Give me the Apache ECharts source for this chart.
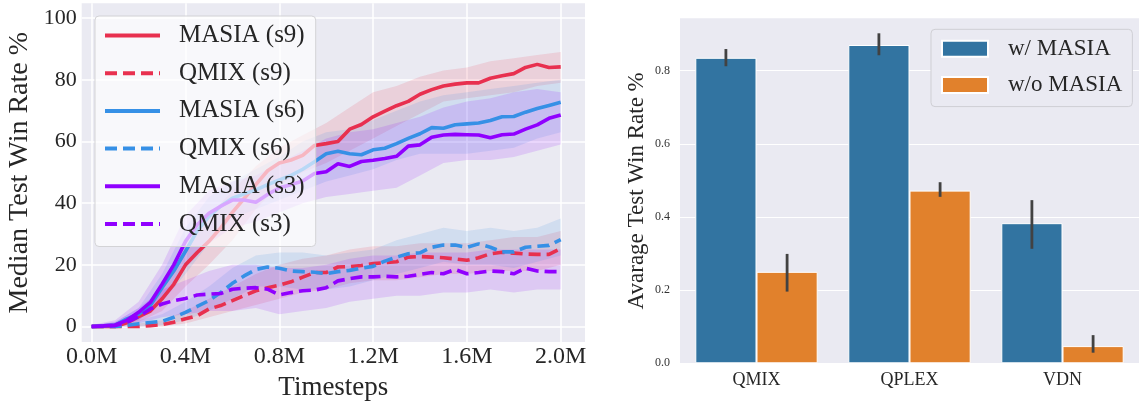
<!DOCTYPE html>
<html>
<head>
<meta charset="utf-8">
<script src="https://cdn.jsdelivr.net/npm/echarts@6/dist/echarts.min.js"></script>
<style>
html,body{margin:0;padding:0;background:#fff;}
#main{width:1139px;height:406px;}
</style>
</head>
<body>
<div id="main"></div>
<script>
// timesteps (M) for the median curves
var steps = [0,0.05,0.1,0.15,0.2,0.25,0.3,0.35,0.4,0.45,0.5,0.55,0.6,0.65,0.7,0.75,0.8,0.85,0.9,0.95,
  1.0,1.05,1.1,1.15,1.2,1.25,1.3,1.35,1.4,1.45,1.5,1.55,1.6,1.65,1.7,1.75,1.8,1.85,1.9,1.95,2.0];
var masiaS9 = [0,0,0,1.2,3.2,5,9,13.7,20,24,27.6,32,37,41.5,46,50.5,53,54,55.5,58.7,
  59.3,60,64,65.5,68,69.8,71.6,73,75.3,76.8,78,78.6,79,79,80.5,81.3,82,84,85,84,84.2];
var qmixS9 = [0,0,0,0,0,0.3,0.6,1.4,2.5,3.5,5.7,6.8,8.4,10,11.6,12.6,13.4,14.5,16,17.5,
  17.5,19.3,19.4,19.8,20.4,20.7,21,22.5,22.7,22.5,22.3,21.9,21.5,22.3,23.6,24.1,23.8,23.5,23.4,23.4,25.3];
var masiaS6 = [0,0.2,0.5,2.5,4,6.8,12.6,18,24.4,31,35.7,39,41.6,43,44.3,46,47.5,49,51,53.4,
  56,56.8,56,55.7,57.3,57.8,59.3,61,62.5,64.5,64.3,65.4,65.7,66,66.8,68,68.1,69.5,70.7,71.7,72.7];
var qmixS6 = [0,0,0,0.4,0.9,1.3,1.7,3,4.6,6.5,8.4,11,14,16.4,18.5,19.3,18.9,18,17.8,17.6,
  17.1,17.8,18.2,18.9,19.5,21.2,22.5,23.6,23.9,25.7,26.4,26.4,25.7,26.8,25.7,24.2,24.2,25.7,26,26.3,28.2];
var masiaS3 = [0,0.2,0.5,2,4.6,7.8,13.7,20,27.6,33,36.7,39,41,41,40.3,42.8,45,46,47.2,49.6,
  50.2,52.8,51.9,53.5,53.9,54.5,55.2,58.5,58.9,61.4,62.1,62.3,62.2,62.1,61.2,62.2,62.4,64,65.4,67.5,68.6];
var qmixS3 = [0,0.1,0.3,1.4,3.2,5.7,7.3,8.4,9.1,10.2,10.5,10.7,12.1,12.4,12.6,12.1,10.3,11,11.6,11.8,
  12.6,14.8,15.5,16.1,16.1,16.3,16.1,16.3,16.9,17.5,17.1,18.5,17.1,17.5,18,17.8,17.1,18.9,18,17.8,17.8];

// shaded spread, sampled every 0.1M
var bandSteps = [0,0.1,0.2,0.3,0.4,0.5,0.6,0.7,0.8,0.9,1.0,1.1,1.2,1.3,1.4,1.5,1.6,1.7,1.8,1.9,2.0];
var masiaS9Hi = [0,0.5,4.5,13,27,36,44,52,58,62,66,71,76,78,81,83,84,86,87,88,89];
var masiaS9Lo = [0,0,1.5,5,13,20,28,38,46,50,53,57,61,65,69,73,74,75,76,78,79];
var masiaS6Hi = [0,1.5,6,17,32,42,47,51,55,60,63,64,67,70,73,75,76,77,78,79,80];
var masiaS6Lo = [0,0,2,8,17,27,35,38,41,44,47,49,51,54,56,56,56,57,58,61,63];
var masiaS3Hi = [0.5,2,8,20,36,44,47,49,53,57,61,63,64,66,68,71,73,74,76,77,76];
var masiaS3Lo = [0,0,2,8,19,27,32,34,37,40,42,43,44,45,49,53,54,54,55,57,59];
var qmixS9Hi = [0,0.5,1,2,5,9,13,17,20,22,23,25,26,26,27,27,27,28,29,29,31];
var qmixS9Lo = [0,0,0,0,1,3,5,7,9,11,12,14,15,15,16,17,17,18,18,18,20];
var qmixS6Hi = [0,0.5,2,4,8,13,19,23,24,24,23,24,25,28,30,32,31,32,31,32,35];
var qmixS6Lo = [0,0,0,0.5,2,5,9,13,13,12,12,13,15,17,19,21,20,20,19,21,23];
var qmixS3Hi = [0.5,1.5,6,12,15,18,20,20,19,19,20,22,23,23,24,24,24,25,25,25,25];
var qmixS3Lo = [0,0,1,3,4,5,5,6,4,5,6,8,9,10,10,11,11,12,11,12,12];

var xTicks = [0,0.4,0.8,1.2,1.6,2.0];
var yTicks = [0,20,40,60,80,100];

// right panel
var algos = ['QMIX','QPLEX','VDN'];
var wMasia = [0.835,0.870,0.383];
var wMasiaErr = [[0.812,0.859],[0.842,0.902],[0.313,0.446]];
var woMasia = [0.250,0.472,0.047];
var woMasiaErr = [[0.196,0.299],[0.455,0.495],[0.029,0.077]];
var barTicks = [0,0.2,0.4,0.6,0.8];

var FONT = 'Liberation Serif, Times New Roman, serif';
var TXT = '#262626';
var RED = '#e8304f', BLUE = '#3690e6', PURPLE = '#9000ff';

var chart = echarts.init(document.getElementById('main'));

function pairs(ys){ return steps.map(function(x,i){ return [x, ys[i]]; }); }

function band(hi, lo, color){
  return {
    type: 'custom', xAxisIndex: 0, yAxisIndex: 0, silent: true, z: 1,
    data: [[0, 0]],
    renderItem: function(params, api){
      var pts = [];
      for (var i = 0; i < bandSteps.length; i++) pts.push(api.coord([bandSteps[i], hi[i]]));
      for (var j = bandSteps.length - 1; j >= 0; j--) pts.push(api.coord([bandSteps[j], lo[j]]));
      return {type: 'polygon', shape: {points: pts}, style: {fill: color, opacity: 0.14}};
    }
  };
}

function curve(name, ys, color, dashed){
  return {
    name: name, type: 'line', xAxisIndex: 0, yAxisIndex: 0,
    data: pairs(ys), showSymbol: false, symbol: 'none', z: 3,
    lineStyle: {color: color, width: 3.6, type: dashed ? [12, 6] : 'solid'},
    itemStyle: {color: color}
  };
}

function errBars(errs, side){
  return {
    type: 'custom', xAxisIndex: 1, yAxisIndex: 1, silent: true, z: 5,
    data: errs.map(function(e, i){ return [i, e[0], e[1]]; }),
    renderItem: function(params, api){
      var w = api.size([1, 0])[0];
      var lo = api.coord([api.value(0), api.value(1)]);
      var hi = api.coord([api.value(0), api.value(2)]);
      var x = lo[0] + side * w * 0.2;
      return {type: 'line', shape: {x1: x, y1: lo[1], x2: x, y2: hi[1]},
        style: {stroke: '#424242', lineWidth: 2.8}};
    }
  };
}

var option = {
  animation: false,
  textStyle: {fontFamily: FONT},
  grid: [
    {left: 81.7, right: 554, top: 3.3, bottom: 61, show: true, backgroundColor: '#eaeaf2', borderWidth: 0},
    {left: 680, right: -4, top: 18.3, bottom: 42.7, show: true, backgroundColor: '#eaeaf2', borderWidth: 0}
  ],
  xAxis: [
    {gridIndex: 0, type: 'value', min: -0.0426, max: 2.1036,
      name: 'Timesteps', nameLocation: 'middle', nameGap: 28,
      nameTextStyle: {fontFamily: FONT, fontSize: 27, color: TXT},
      axisLine: {show: false}, axisTick: {show: false, customValues: xTicks},
      axisLabel: {customValues: xTicks, margin: 3, fontFamily: FONT, fontSize: 24, color: TXT,
        formatter: function(v){ return v.toFixed(1) + 'M'; }},
      splitLine: {show: true, lineStyle: {color: '#ffffff', width: 1.5}}},
    {gridIndex: 1, type: 'category', data: algos,
      axisLine: {show: false}, axisTick: {show: false},
      axisLabel: {margin: 8, fontFamily: FONT, fontSize: 18, color: TXT},
      splitLine: {show: false}}
  ],
  yAxis: [
    {gridIndex: 0, type: 'value', min: -5.05, max: 104.8,
      name: 'Median Test Win Rate %', nameLocation: 'middle', nameGap: 48,
      nameTextStyle: {fontFamily: FONT, fontSize: 28, color: TXT},
      axisLine: {show: false}, axisTick: {show: false, customValues: yTicks},
      axisLabel: {customValues: yTicks, margin: 5, fontFamily: FONT, fontSize: 22, color: TXT},
      splitLine: {show: true, lineStyle: {color: '#ffffff', width: 1.5}}},
    {gridIndex: 1, type: 'value', min: 0, max: 0.943,
      name: 'Avarage Test Win Rate %', nameLocation: 'middle', nameGap: 32,
      nameTextStyle: {fontFamily: FONT, fontSize: 23, color: TXT},
      axisLine: {show: false}, axisTick: {show: false, customValues: barTicks},
      axisLabel: {customValues: barTicks, margin: 10, fontFamily: FONT, fontSize: 12, color: '#333',
        formatter: function(v){ return v.toFixed(1); }},
      splitLine: {show: true, lineStyle: {color: '#ffffff', width: 1.2}}}
  ],
  legend: [
    {data: ['MASIA (s9)','QMIX (s9)','MASIA (s6)','QMIX (s6)','MASIA (s3)','QMIX (s3)'],
      orient: 'vertical', left: 95, top: 16, padding: [7, 11, 10, 8],
      itemWidth: 55, itemHeight: 14, itemGap: 12.7,
      itemStyle: {opacity: 0},
      lineStyle: {width: 4},
      backgroundColor: 'rgba(255,255,255,0.65)', borderColor: '#d3d3d6', borderWidth: 1, borderRadius: 4,
      textStyle: {fontFamily: FONT, fontSize: 25, color: TXT, lineHeight: 24, padding: [0, 0, 0, 14]}},
    {data: ['w/ MASIA','w/o MASIA'], icon: 'rect',
      orient: 'vertical', left: 931, top: 29.3, padding: [8, 10, 10, 10],
      itemWidth: 46, itemHeight: 16, itemGap: 13.3,
      backgroundColor: '#eaeaf2', borderColor: '#cfcfd4', borderWidth: 1, borderRadius: 4,
      textStyle: {fontFamily: FONT, fontSize: 23, color: TXT, lineHeight: 20, padding: [0, 0, 0, 15]}}
  ],
  series: [
    band(masiaS9Hi, masiaS9Lo, RED),
    band(qmixS9Hi, qmixS9Lo, RED),
    band(masiaS6Hi, masiaS6Lo, BLUE),
    band(qmixS6Hi, qmixS6Lo, BLUE),
    band(masiaS3Hi, masiaS3Lo, PURPLE),
    band(qmixS3Hi, qmixS3Lo, PURPLE),
    curve('MASIA (s9)', masiaS9, RED, false),
    curve('QMIX (s9)', qmixS9, RED, true),
    curve('MASIA (s6)', masiaS6, BLUE, false),
    curve('QMIX (s6)', qmixS6, BLUE, true),
    curve('MASIA (s3)', masiaS3, PURPLE, false),
    curve('QMIX (s3)', qmixS3, PURPLE, true),
    {name: 'w/ MASIA', type: 'bar', xAxisIndex: 1, yAxisIndex: 1, data: wMasia,
      barGap: '0%', barCategoryGap: '20%',
      itemStyle: {color: '#3274a1', borderColor: '#ffffff', borderWidth: 1}},
    {name: 'w/o MASIA', type: 'bar', xAxisIndex: 1, yAxisIndex: 1, data: woMasia,
      barGap: '0%', barCategoryGap: '20%',
      itemStyle: {color: '#e1812c', borderColor: '#ffffff', borderWidth: 1}},
    errBars(wMasiaErr, -1),
    errBars(woMasiaErr, 1)
  ]
};
chart.setOption(option);
</script>
</body>
</html>
